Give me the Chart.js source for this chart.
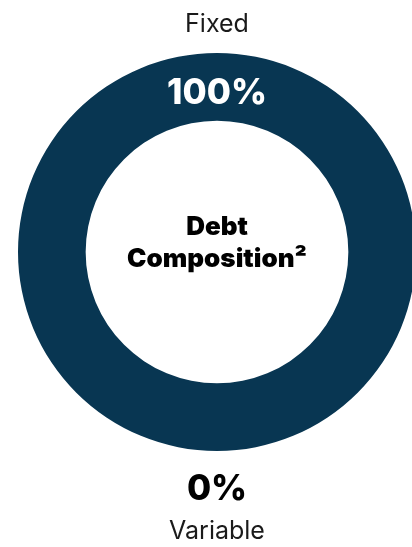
<!DOCTYPE html>
<html>
<head>
<meta charset="utf-8">
<script src="https://cdn.jsdelivr.net/npm/chart.js@4"></script>
<style>
  html, body { margin: 0; padding: 0; background: #fff; overflow: hidden; }
  #wrap { position: relative; width: 416px; height: 547px; }
</style>
</head>
<body>
<div id="wrap"><canvas id="debtChart"></canvas></div>
<script>
var labels = ["Fixed", "Variable"];
var values = [100, 0];
var pctLabels = ["100%", "0%"];
var centerLines = ["Debt", "Composition\u00b2"];

var ringColor = "#083652";

// draws the labels round the ring and the title in the hole
var labelPlugin = {
  id: "ringLabels",
  afterDraw: function(chart) {
    var arc = chart.getDatasetMeta(0).data[0];
    if (!arc) return;
    var ctx = chart.ctx;
    var cx = arc.x, cy = arc.y;
    var outer = arc.outerRadius, inner = arc.innerRadius;
    ctx.save();
    ctx.textAlign = "center";
    ctx.textBaseline = "alphabetic";

    ctx.fillStyle = "#1a1a1a";
    ctx.font = "400 25px Inter";
    ctx.fillText(labels[0], cx, cy - outer - 21);

    ctx.fillStyle = "#ffffff";
    ctx.font = "800 35px Inter";
    ctx.fillText(pctLabels[0], cx, cy - (outer + inner) / 2 + 17);

    ctx.fillStyle = "#000000";
    ctx.font = "800 35px Inter";
    ctx.fillText(pctLabels[1], cx, cy + outer + 49);

    ctx.fillStyle = "#1a1a1a";
    ctx.font = "400 25px Inter";
    ctx.fillText(labels[1], cx, cy + outer + 88);

    ctx.fillStyle = "#000000";
    ctx.font = "900 26px Inter";
    ctx.fillText(centerLines[0], cx, cy - 17);
    ctx.fillText(centerLines[1], cx, cy + 15);
    ctx.restore();
  }
};

new Chart(document.getElementById("debtChart"), {
  type: "doughnut",
  data: {
    labels: labels,
    datasets: [{
      data: values,
      backgroundColor: [ringColor, "#c8d3dc"],
      borderWidth: 0
    }]
  },
  options: {
    responsive: true,
    maintainAspectRatio: false,
    animation: false,
    cutout: "66%",
    layout: { padding: { top: 53, bottom: 96, left: 18, right: 0 } },
    plugins: {
      legend: { display: false },
      tooltip: { enabled: false }
    }
  },
  plugins: [labelPlugin]
});
</script>
</body>
</html>
